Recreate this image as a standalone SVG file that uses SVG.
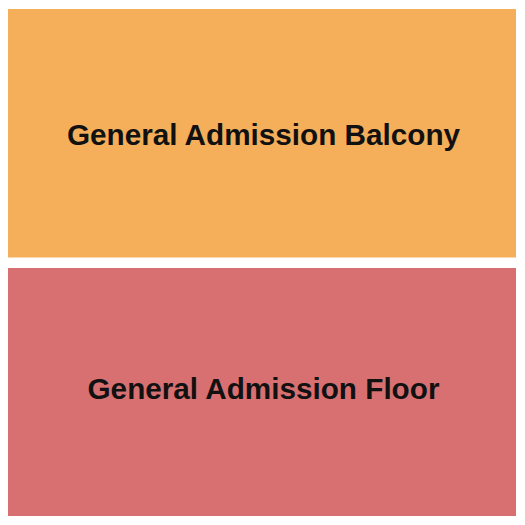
<svg xmlns="http://www.w3.org/2000/svg" width="525" height="525" viewBox="0 0 525 525">
<style>
.lbl{font-family:"Liberation Sans",Arial,sans-serif;font-weight:bold;font-size:29.7px;fill:#111111;text-anchor:middle}
</style>
<rect x="0" y="0" width="525" height="525" fill="#ffffff"/>
<g id="balcony">
<rect x="8" y="9" width="508" height="248.5" fill="#F5AE5A"/>
<text class="lbl" x="263.5" y="145">General Admission Balcony</text>
</g>
<g id="floor">
<rect x="8" y="268" width="508" height="248" fill="#D87071"/>
<text class="lbl" x="263.5" y="398.5">General Admission Floor</text>
</g>
<g id="connectors"/>
</svg>
